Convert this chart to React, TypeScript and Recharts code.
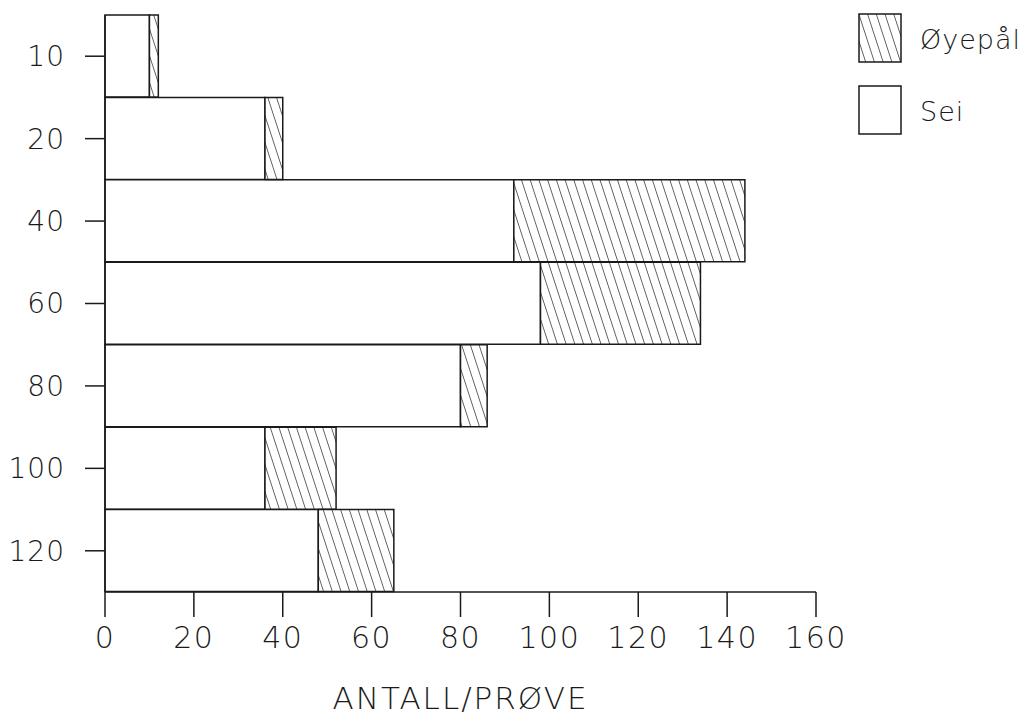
import React from 'react';
import { BarChart, Bar, XAxis, YAxis } from 'recharts';

// lengde-grupper (y-akse) og antall per prøve
const categories = ['10', '20', '40', '60', '80', '100', '120'];
const seiValues = [10, 36, 92, 98, 80, 36, 48];
const oyepalValues = [2, 4, 52, 36, 6, 16, 17];
const xTicks = [0, 20, 40, 60, 80, 100, 120, 140, 160];
const legendItems = [
    { key: 'oyepal', label: 'Øyepål', hatched: true },
    { key: 'sei', label: 'Sei', hatched: false },
];

const data = categories.map((cat, i) => ({ cat, sei: seiValues[i], oyepal: oyepalValues[i] }));

const FONT = "'DejaVu Sans', sans-serif";
const INK = '#1a1a1a';
const textBase = { fill: INK, fontFamily: FONT, fontStretch: 'condensed', fontWeight: 300 };

const HatchDef = ({ id }: { id: string }) => (
    <pattern id={id} width="8.3" height="9" patternUnits="userSpaceOnUse" patternTransform="rotate(-18)">
        <rect width="8.3" height="9" fill="#fff" />
        <line x1="0" y1="0" x2="0" y2="9" stroke={INK} strokeWidth={1.3} />
    </pattern>
);

function LegendBox() {
    return (
        <svg width={167} height={130} style={{ position: 'absolute', left: 858, top: 13, overflow: 'visible' }}>
            <defs><HatchDef id="hatchLegend" /></defs>
            {legendItems.map((item, i) => (
                <g key={item.key} transform={`translate(0, ${i * 72})`}>
                    <rect x={1} y={1} width={42} height={48} fill={item.hatched ? 'url(#hatchLegend)' : '#fff'} stroke={INK} strokeWidth={1.5} />
                    <text x={62} y={26} dominantBaseline="central" style={{ ...textBase, fontSize: 27, letterSpacing: 1 }}>{item.label}</text>
                </g>
            ))}
        </svg>
    );
}

export default function App() {
    return (
        <div style={{ position: 'absolute', left: 0, top: 0, width: 1025, height: 721, background: '#fff', overflow: 'hidden' }}>
            <BarChart
                width={1025}
                height={721}
                data={data}
                layout="vertical"
                margin={{ top: 15, right: 209, bottom: 0, left: 0 }}
                barCategoryGap={0}
            >
                <defs><HatchDef id="hatch" /></defs>
                <XAxis
                    type="number"
                    domain={[0, 160]}
                    ticks={xTicks}
                    height={129}
                    tickSize={25}
                    tickMargin={10}
                    stroke={INK}
                    strokeWidth={1.5}
                    tick={{ ...textBase, fontSize: 30, letterSpacing: 1.5 }}
                    label={{ value: 'ANTALL/PRØVE', position: 'insideBottom', offset: 12, style: { ...textBase, fontSize: 31, letterSpacing: 2 } }}
                />
                <XAxis xAxisId="top" orientation="top" type="number" domain={[0, 160]} height={0} tick={false} tickLine={false} stroke={INK} strokeWidth={1.5} />
                <YAxis
                    type="category"
                    dataKey="cat"
                    width={105}
                    tickSize={20}
                    tickMargin={20}
                    stroke={INK}
                    strokeWidth={1.5}
                    tick={{ ...textBase, fontSize: 28, letterSpacing: 1 }}
                />
                <YAxis yAxisId="right" orientation="right" type="category" dataKey="cat" width={0} tick={false} tickLine={false} stroke={INK} strokeWidth={1.5} />
                <Bar dataKey="sei" name="Sei" stackId="a" fill="#fff" stroke={INK} strokeWidth={1.5} isAnimationActive={false} />
                <Bar dataKey="oyepal" name="Øyepål" stackId="a" fill="url(#hatch)" stroke={INK} strokeWidth={1.5} isAnimationActive={false} />
            </BarChart>
            <LegendBox />
        </div>
    );
}
